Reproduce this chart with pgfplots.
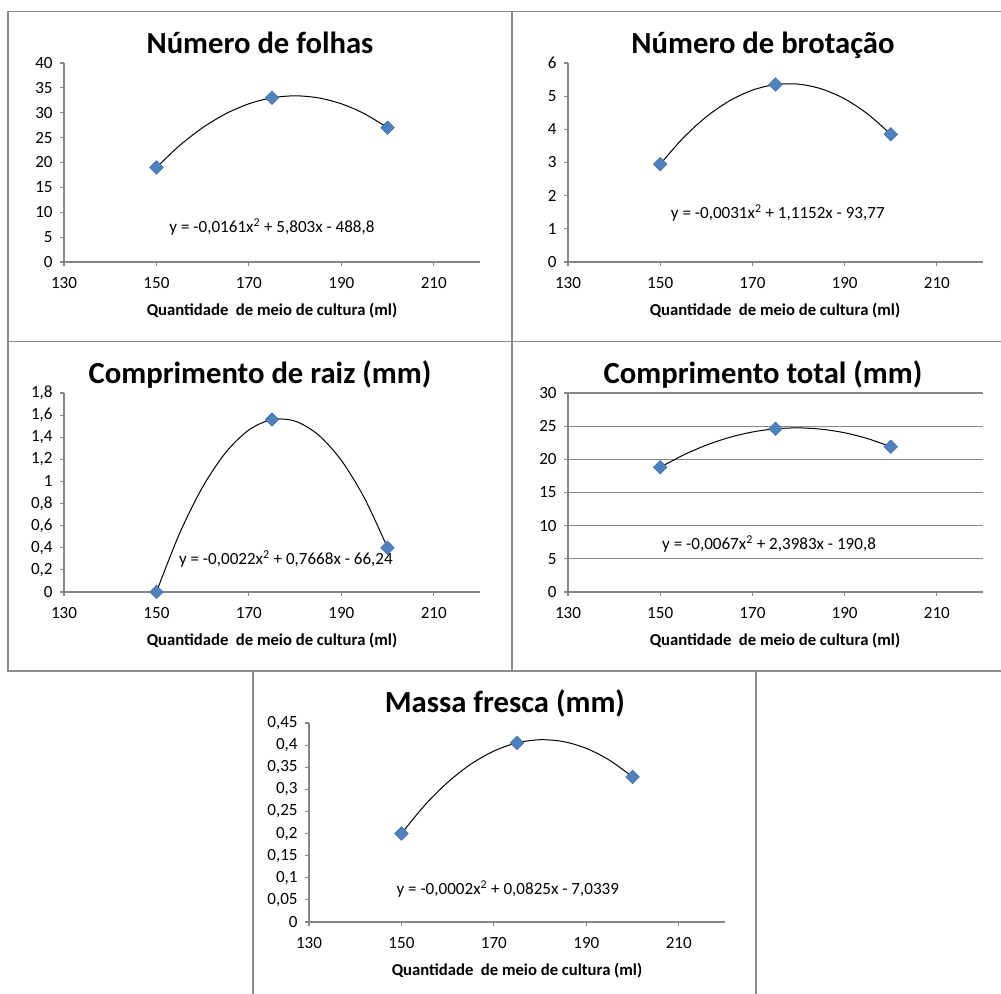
\documentclass[border=0pt]{standalone}
\usepackage{fontspec}
\setmainfont{Carlito}
\usepackage{pgfplots}
\pgfplotsset{compat=1.18}
\definecolor{framegray}{HTML}{8C8C8C}
\definecolor{axgray}{HTML}{868686}
\definecolor{xlblue}{HTML}{4F81BD}
\newcommand{\tickfont}{\fontsize{12.8}{14}\selectfont}
\pgfplotsset{excel/.style={
  scale only axis, width=312pt, height=149.25pt,
  anchor=south west,
  xmin=130, xmax=220, xtick={130,150,170,190,210},
  ymin=0,
  axis x line*=bottom, axis y line*=left,
  axis line style={axgray, line width=0.8pt, -},
  tick style={axgray, line width=0.8pt},
  tick align=outside, major tick length=3pt,
  ticklabel style={font=\tickfont, text=black},
  xticklabel style={yshift=-5pt},
  yticklabel style={xshift=-2pt},
  scaled ticks=false,
  /pgf/number format/fixed,
  /pgf/number format/use comma,
  /pgf/number format/1000 sep={},
  /pgf/number format/assume math mode=true,
  clip=false,
}}
\pgfplotsset{
  ptstyle/.style={only marks, mark=square*, mark size=3.6pt, color=xlblue,
    mark options={rotate=45, fill=xlblue, draw=xlblue!85!black, line width=0.4pt}},
  trend/.style={black, line width=0.75pt, smooth, no marks},
}
\begin{document}
\begin{tikzpicture}
\begin{scope}[x=0.75pt, y=-0.75pt]
  \path[use as bounding box, fill=white] (0,0) rectangle (1001,994);
  \draw[framegray, line width=1.1pt] (1001,11.5) -- (8,11.5) -- (8,671) -- (1001,671);
  \draw[framegray, line width=1.1pt] (8,341.5) -- (1001,341.5);
  \draw[framegray, line width=1.1pt] (512,11.5) -- (512,671);
  \draw[framegray, line width=1.1pt] (253,671) -- (253,994);
  \draw[framegray, line width=1.1pt] (756,671) -- (756,994);
  \begin{scope}[font=\bfseries\fontsize{23}{27}\selectfont]
    \node[anchor=base] at (260,53.3) {Número de folhas};
    \node[anchor=base] at (763,53.3) {Número de brotação};
    \node[anchor=base] at (260,383.3) {Comprimento de raiz (mm)};
    \node[anchor=base] at (763,383.3) {Comprimento total (mm)};
    \node[anchor=base] at (505,712.7) {Massa fresca (mm)};
  \end{scope}
  \begin{scope}[font=\bfseries\fontsize{12.5}{14}\selectfont]
    \node[anchor=base] at (272,316) {Quantidade\ \ de meio de cultura (ml)};
    \node[anchor=base] at (775,316) {Quantidade\ \ de meio de cultura (ml)};
    \node[anchor=base] at (272,646) {Quantidade\ \ de meio de cultura (ml)};
    \node[anchor=base] at (775,646) {Quantidade\ \ de meio de cultura (ml)};
    \node[anchor=base] at (517,975.7) {Quantidade\ \ de meio de cultura (ml)};
  \end{scope}
\end{scope}

% Panel 1
\begin{axis}[excel, at={(48pt,-196.5pt)}, ymax=40, ytick={0,5,...,40}]
  \addplot[ptstyle] coordinates {(150,19) (175,33) (200,27)};
  \addplot[trend] coordinates {(150,19) (155,23.4) (160,27.0) (165,29.8) (170,31.8) (175,33) (180,33.4) (185,33.0) (190,31.8) (195,29.8) (200,27)};
  \node[anchor=base, font=\tickfont] at (axis cs:175,5.97) {y = -0,0161x\textsuperscript{2} + 5,803x - 488,8};
\end{axis}

% Panel 2
\begin{axis}[excel, at={(426pt,-196.5pt)}, width=311.25pt, ymax=6, ytick={0,1,...,6}]
  \addplot[ptstyle] coordinates {(150,2.95) (175,5.35) (200,3.85)};
  \addplot[trend] coordinates {(150,2.95) (155,3.742) (160,4.378) (165,4.858) (170,5.182) (175,5.35) (180,5.362) (185,5.218) (190,4.918) (195,4.462) (200,3.85)};
  \node[anchor=base, font=\tickfont] at (axis cs:175.5,1.32) {y = -0,0031x\textsuperscript{2} + 1,1152x - 93,77};
\end{axis}

% Panel 3
\begin{axis}[excel, at={(48pt,-444pt)}, ymax=1.8, ytick={0,0.2,0.4,0.6,0.8,1,1.2,1.4,1.6,1.8}]
  \addplot[ptstyle] coordinates {(150,0) (175,1.56) (200,0.40)};
  \addplot[trend] coordinates {(150,0) (155,0.5296) (160,0.9504) (165,1.2624) (170,1.4656) (175,1.56) (180,1.5456) (185,1.4224) (190,1.1904) (195,0.8496) (200,0.40)};
  \node[anchor=base, font=\tickfont] at (axis cs:178,0.25) {y = -0,0022x\textsuperscript{2} + 0,7668x - 66,24};
\end{axis}

% Panel 4
\begin{axis}[excel, at={(426pt,-444pt)}, width=311.25pt, ymax=30, ytick={0,5,...,30},
  ymajorgrids, major grid style={axgray, line width=0.8pt}]
  \addplot[ptstyle] coordinates {(150,18.8) (175,24.6) (200,21.9)};
  \addplot[trend] coordinates {(150,18.8) (155,20.64) (160,22.14) (165,23.3) (170,24.12) (175,24.6) (180,24.74) (185,24.54) (190,24.0) (195,23.12) (200,21.9)};
  \node[anchor=base, font=\tickfont] at (axis cs:173.6,6.48) {y = -0,0067x\textsuperscript{2} + 2,3983x - 190,8};
\end{axis}

% Panel 5
\begin{axis}[excel, at={(231.75pt,-691.5pt)}, ymax=0.45, ytick={0,0.05,0.1,0.15,0.2,0.25,0.3,0.35,0.4,0.45}]
  \addplot[ptstyle] coordinates {(150,0.2) (175,0.405) (200,0.328)};
  \addplot[trend] coordinates {(150,0.2) (155,0.26356) (160,0.31584) (165,0.35684) (170,0.38656) (175,0.405) (180,0.41216) (185,0.40804) (190,0.39264) (195,0.36596) (200,0.328)};
  \node[anchor=base, font=\tickfont] at (axis cs:173,0.0626) {y = -0,0002x\textsuperscript{2} + 0,0825x - 7,0339};
\end{axis}
\end{tikzpicture}
\end{document}
